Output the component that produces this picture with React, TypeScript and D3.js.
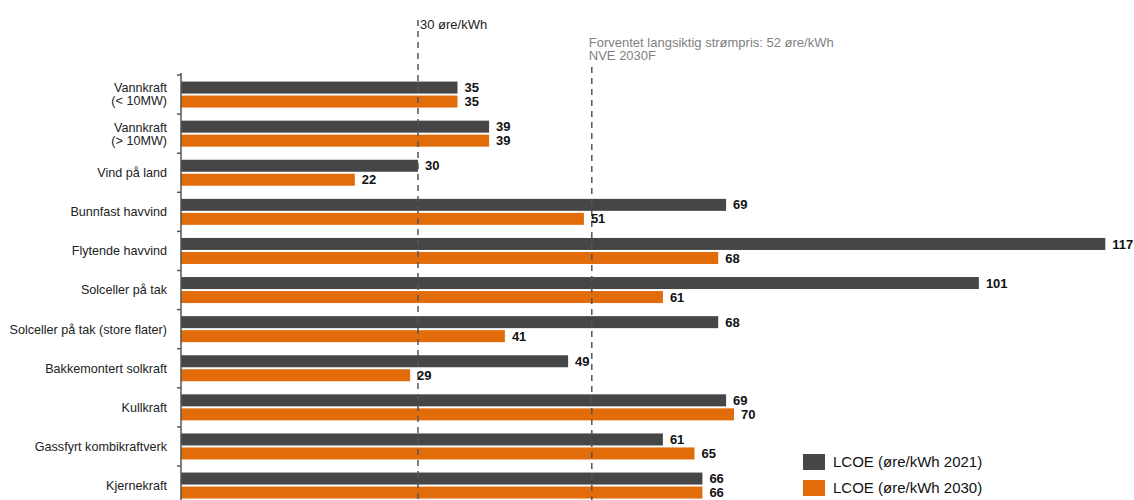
import React from "react";
import * as d3 from "d3";

const categories: string[][] = [
  ["Vannkraft", "(< 10MW)"],
  ["Vannkraft", "(> 10MW)"],
  ["Vind på land"],
  ["Bunnfast havvind"],
  ["Flytende havvind"],
  ["Solceller på tak"],
  ["Solceller på tak (store flater)"],
  ["Bakkemontert solkraft"],
  ["Kullkraft"],
  ["Gassfyrt kombikraftverk"],
  ["Kjernekraft"],
];
const lcoe2021: number[] = [35, 39, 30, 69, 117, 101, 68, 49, 69, 61, 66];
const lcoe2030: number[] = [35, 39, 22, 51, 68, 61, 41, 29, 70, 65, 66];
const seriesNames = ["LCOE (øre/kWh 2021)", "LCOE (øre/kWh 2030)"];
const refLines = [
  { value: 30, lines: ["30 øre/kWh"] },
  { value: 52, lines: ["Forventet langsiktig strømpris: 52 øre/kWh", "NVE 2030F"] },
];

const W = 1134;
const H = 500;
const DARK = "#464646";
const ORANGE = "#E36C0A";
const FONT = "'Liberation Sans', Arial, sans-serif";

export default function App() {
  const x0 = 181;
  const x = d3.scaleLinear().domain([0, 117]).range([x0, x0 + 117 * 7.9]);
  const keys = categories.map((_, i) => String(i));
  const step = 39.1;
  const y = d3
    .scaleBand<string>()
    .domain(keys)
    .range([75, 75 + step * categories.length])
    .paddingInner(0)
    .paddingOuter(0);
  const barH = 12;

  return (
    <svg
      width={W}
      height={H}
      style={{ position: "absolute", left: 0, top: 0, background: "#fff" }}
      fontFamily={FONT}
    >
      {/* bars */}
      {keys.map((k, i) => {
        const c = (y(k) as number) + y.bandwidth() / 2;
        return (
          <g key={k}>
            <rect x={x(0)} y={c - 13} width={x(lcoe2021[i]) - x(0)} height={barH} fill={DARK} />
            <rect x={x(0)} y={c + 1} width={x(lcoe2030[i]) - x(0)} height={barH} fill={ORANGE} />
          </g>
        );
      })}
      {/* reference lines */}
      {refLines.map((r, j) => (
        <g key={j}>
          <line
            x1={x(r.value)}
            x2={x(r.value)}
            y1={j === 0 ? 20 : 67}
            y2={H}
            stroke="#555"
            strokeWidth={1.5}
            strokeDasharray="6,5"
          />
          {r.lines.map((t, li) => (
            <text
              key={li}
              x={x(r.value) + (j === 0 ? 2 : -3)}
              y={(j === 0 ? 29 : 47) + li * 13}
              fontSize={13}
              fill={j === 0 ? "#222" : "#7f7f7f"}
            >
              {t}
            </text>
          ))}
        </g>
      ))}
      {/* value labels */}
      {keys.map((k, i) => {
        const c = (y(k) as number) + y.bandwidth() / 2;
        return (
          <g key={"v" + k} fontWeight="bold" fontSize={13} fill="#111">
            <text x={x(lcoe2021[i]) + 7} y={c - 7} dy="0.35em">
              {lcoe2021[i]}
            </text>
            <text x={x(lcoe2030[i]) + 7} y={c + 7} dy="0.35em">
              {lcoe2030[i]}
            </text>
          </g>
        );
      })}
      {/* axis */}
      <line x1={x0} x2={x0} y1={73} y2={H} stroke="#555" strokeWidth={1.5} />
      {keys.map((k) => (
        <line key={"t" + k} x1={x0 - 4} x2={x0} y1={y(k) as number} y2={y(k) as number} stroke="#555" strokeWidth={1.5} />
      ))}
      {keys.map((k, i) => {
        const c = (y(k) as number) + y.bandwidth() / 2;
        const ls = categories[i];
        return (
          <text key={"c" + k} x={167} textAnchor="end" fontSize={12.6} fill="#222">
            {ls.map((t, li) => (
              <tspan key={li} x={167} y={c + (li - (ls.length - 1) / 2) * 13} dy="0.35em">
                {t}
              </tspan>
            ))}
          </text>
        );
      })}
      {/* legend */}
      {seriesNames.map((s, i) => (
        <g key={s} transform={`translate(803, ${454 + i * 26})`}>
          <rect width={22} height={16} fill={i === 0 ? DARK : ORANGE} />
          <text x={30} y={8} dy="0.35em" fontSize={15} fill="#111">
            {s}
          </text>
        </g>
      ))}
    </svg>
  );
}
